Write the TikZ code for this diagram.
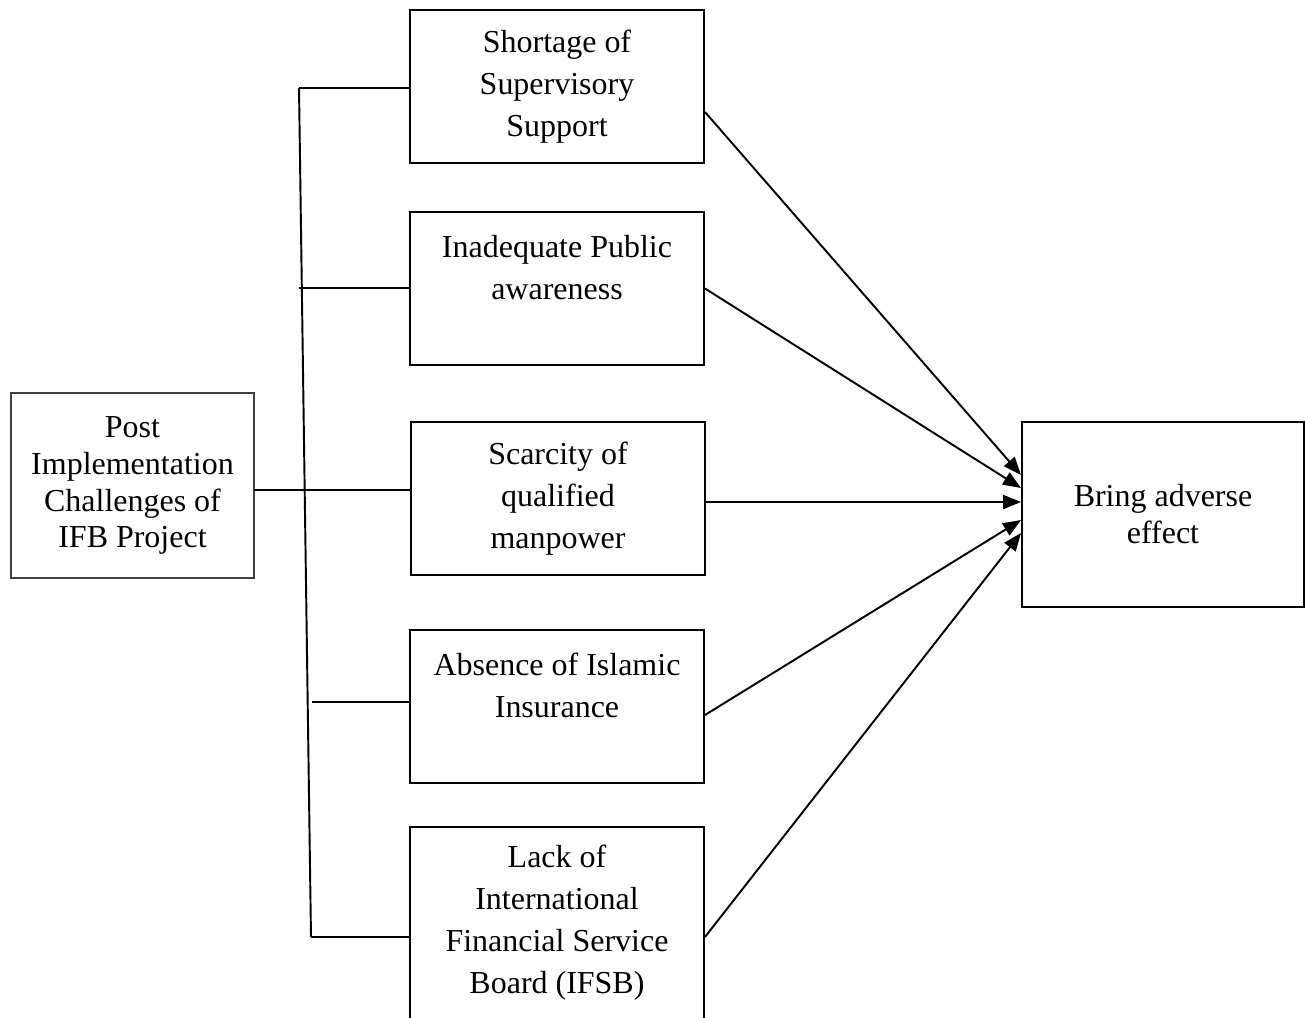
\documentclass[tikz,border=0pt]{standalone}
\usepackage{fontspec}
\setmainfont{Liberation Serif}
\usetikzlibrary{arrows.meta,positioning,calc}

\begin{document}
\begin{tikzpicture}[x=0.2mm,y=-0.2mm,
  box/.style={draw,line width=1.1pt,align=center,minimum width=58.8mm,minimum height=30.6mm,font=\fontsize{18.2}{23.9}\selectfont},
  link/.style={line width=1.1pt},
  arr/.style={line width=1.1pt,-{Triangle[length=3.6mm,width=2.8mm]}}]
  \useasboundingbox (0,0) rectangle (1305,1017);

  % 左の箱
  \node[draw=black!75,line width=0.6pt,align=center,minimum width=48.6mm,minimum height=37mm,font=\fontsize{18.2}{21}\selectfont] (post) at (132.5,485.5) {Post\\Implementation\\Challenges of\\IFB Project};

  % 課題の箱
  \node[box] (sup) at (557,86.5) {Shortage of\\Supervisory\\Support};
  \node[box] (aware) at (557,288.5) {Inadequate Public\\awareness\\\mbox{}};
  \node[box] (man) at (558,498.5) {Scarcity of\\qualified\\manpower};
  \node[box] (ins) at (557,706.5) {Absence of Islamic\\Insurance\\\mbox{}};
  \node[box,minimum height=38.4mm] (ifsb) at (557,923) {Lack of\\International\\Financial Service\\Board (IFSB)};

  % 結果の箱
  \node[box,minimum width=56.4mm,minimum height=37mm,font=\fontsize{18.2}{21}\selectfont] (eff) at (1163,514.5) {Bring adverse\\effect};

  % 枝
  \coordinate (top) at (299,88);
  \coordinate (bot) at (311,937);
  \coordinate (b2) at (299,288);
  \coordinate (b3) at (254,490);
  \coordinate (b4) at (312,702);
  \draw[link] (top) -- (bot);
  \draw[link] (top) -- (top -| sup.west);
  \draw[link] (b2) -- (b2 -| aware.west);
  \draw[link] (b3) -- (b3 -| man.west);
  \draw[link] (b4) -- (b4 -| ins.west);
  \draw[link] (bot) -- (bot -| ifsb.west);

  % 矢印
  \draw[arr] ([yshift=-5.1mm]sup.east) -- ([yshift=7.9mm]eff.west);
  \draw[arr] (aware.east) -- ([yshift=5.3mm]eff.west);
  \draw[arr] ([yshift=-0.7mm]man.east) -- ([yshift=2.5mm]eff.west);
  \draw[arr] ([yshift=-1.7mm]ins.east) -- ([yshift=-1.1mm]eff.west);
  \draw[arr] ([yshift=-2.8mm]ifsb.east) -- ([yshift=-3.7mm]eff.west);
\end{tikzpicture}
\end{document}
